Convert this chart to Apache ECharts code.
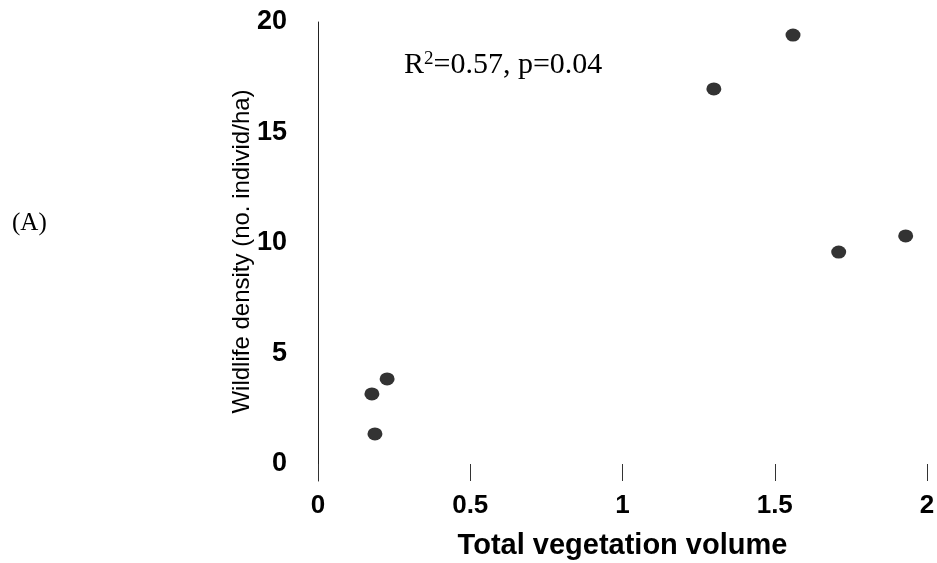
<!DOCTYPE html>
<html>
<head>
<meta charset="utf-8">
<script src="https://cdn.jsdelivr.net/npm/echarts@6/dist/echarts.min.js"></script>
<style>
  html, body { margin: 0; padding: 0; background: #fff; }
  #main { width: 937px; height: 563px; }
</style>
</head>
<body>
<div id="main"></div>
<script>
// vegetation volume vs wildlife density
const vegVolume = [0.187, 0.177, 0.227, 1.30, 1.56, 1.71, 1.93];
const density = [1.36, 3.17, 3.85, 16.97, 19.41, 9.59, 10.32];
const xTicks = [0, 0.5, 1, 1.5, 2];
const yTicks = [0, 5, 10, 15, 20];

const points = vegVolume.map((v, i) => [v, density[i]]);

const chart = echarts.init(document.getElementById("main"));

const option = {
  backgroundColor: "#fff",
  animation: false,
  grid: { left: 318, right: 10, top: 22, bottom: 82, outerBoundsMode: "none", containLabel: false },
  title: [
    {
      text: "R{sup|2}=0.57, p=0.04",
      left: 399,
      top: 45,
      textStyle: {
        fontFamily: "Liberation Serif",
        fontSize: 30,
        fontWeight: "normal",
        color: "#000",
        rich: {
          sup: { fontFamily: "Liberation Serif", fontSize: 19, verticalAlign: "top", padding: [0, 0, 12, 0], color: "#000" },
        },
      },
    },
    {
      text: "(A)",
      left: 7,
      top: 206,
      textStyle: { fontFamily: "Liberation Serif", fontSize: 25, fontWeight: "normal", color: "#000" },
    },
  ],
  xAxis: {
    type: "value",
    min: 0,
    max: 2,
    interval: 0.5,
    name: "Total vegetation volume",
    nameLocation: "middle",
    nameGap: 50,
    nameMoveOverlap: false,
    nameTextStyle: { fontFamily: "Liberation Sans", fontSize: 29, fontWeight: "bold", color: "#000" },
    axisLine: { show: false, onZero: false },
    axisTick: { show: true, inside: true, length: 17, lineStyle: { color: "#333", width: 1 } },
    axisLabel: {
      margin: 12,
      fontFamily: "Liberation Sans",
      fontSize: 26,
      fontWeight: "bold",
      color: "#000",
      customValues: xTicks,
    },
    splitLine: { show: false },
  },
  yAxis: {
    type: "value",
    min: -0.77,
    max: 20,
    name: "Wildlife density (no. individ/ha)",
    nameLocation: "middle",
    nameGap: 64,
    nameMoveOverlap: false,
    nameTextStyle: { fontFamily: "Liberation Sans", fontSize: 24, color: "#000" },
    axisLine: { show: true, lineStyle: { color: "#222", width: 1 } },
    axisTick: { show: false },
    axisLabel: {
      margin: 31,
      fontFamily: "Liberation Sans",
      fontSize: 27,
      fontWeight: "bold",
      color: "#000",
      customValues: yTicks,
    },
    splitLine: { show: false },
  },
  series: [
    {
      type: "scatter",
      data: points,
      symbol: "circle",
      symbolSize: [15, 13],
      itemStyle: { color: "#000" },
    },
  ],
};

chart.setOption(option);
</script>
</body>
</html>
